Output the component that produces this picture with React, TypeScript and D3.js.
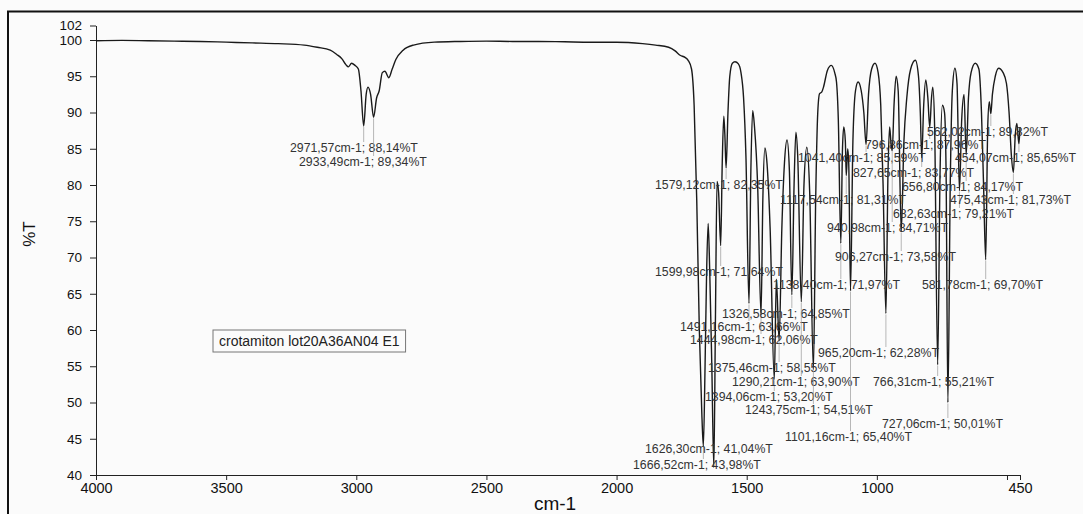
import * as d3 from 'd3';
import React, { useRef, useEffect } from 'react';

// spectrum: wavenumber (cm-1) and %T
const wavenumbers = [
  4000, 3900, 3800, 3700, 3600, 3500, 3400, 3300, 3200, 3150, 3100, 3075, 3055, 3040, 3030, 3018, 3005, 2992, 2982,
  2971.57, 2962, 2955, 2945, 2933.49, 2922, 2912, 2900, 2890, 2875, 2862, 2848, 2820, 2780, 2700, 2600, 2500, 2400,
  2300, 2200, 2100, 2000, 1900, 1850, 1800, 1775, 1756, 1737, 1725, 1712, 1702, 1692, 1682, 1672, 1666.52, 1660,
  1654, 1648, 1642, 1634, 1626.3, 1620, 1614, 1608, 1599.98, 1594, 1588, 1584, 1579.12, 1572, 1565, 1555, 1545,
  1532, 1522, 1512, 1503, 1491.16, 1484, 1477, 1470, 1458, 1444.98, 1438, 1430, 1422, 1410, 1394.06, 1386, 1375.46,
  1365, 1355, 1345, 1336, 1326.58, 1318, 1311, 1304, 1290.21, 1280, 1269, 1258, 1243.75, 1235, 1227, 1220, 1212,
  1205, 1190, 1175, 1162, 1155, 1148, 1138.4, 1132, 1127, 1121, 1117.54, 1112, 1108, 1101.16, 1092, 1082, 1072,
  1060, 1050, 1041.4, 1032, 1020, 1007, 995, 985, 976, 965.2, 957, 951, 946, 940.98, 934, 926, 918, 906.27, 896,
  885, 870, 852, 840, 833, 827.65, 820, 812, 804, 796.86, 790, 785, 778, 766.31, 757, 748, 740, 734, 727.06, 718,
  710, 700, 692, 682.63, 674, 665, 656.8, 648, 638, 622, 608, 598, 590, 581.78, 574, 568, 562.02, 556, 545, 532,
  515, 502, 492, 483, 475.43, 468, 462, 454.07, 450,
];
const transmittance = [
  99.9, 99.95, 99.9, 99.85, 99.8, 99.7, 99.6, 99.5, 99.3, 99.0, 98.6, 98.0, 97.4, 96.6, 96.3, 96.8, 96.5, 96.0, 93.0,
  88.14, 92.5, 93.5, 92.5, 89.34, 92.0, 93.0, 95.5, 95.7, 94.8, 96.0, 97.3, 98.6, 99.3, 99.7, 99.8, 99.85, 99.8,
  99.8, 99.75, 99.7, 99.7, 99.5, 99.3, 99.0, 98.5, 97.9, 97.6, 97.2, 96.0, 91.0, 78.0, 60.0, 48.0, 43.98, 55.0,
  68.0, 74.7, 68.0, 55.0, 41.04, 62.0, 80.5, 79.0, 71.64, 83.0, 89.5, 87.0, 82.35, 90.0, 95.0, 96.8, 97.0,
  96.7, 95.5, 92.0, 84.0, 63.66, 82.0, 90.3, 88.0, 80.0, 62.06, 78.0, 85.1, 83.0, 74.0, 53.2, 67.0, 58.55,
  74.0, 83.0, 86.2, 82.0, 64.85, 80.0, 87.3, 84.0, 63.9, 80.0, 85.2, 79.0, 54.51, 78.0, 90.0, 92.6, 92.8,
  93.5, 95.8, 96.5, 95.5, 94.2, 89.0, 71.97, 85.0, 88.0, 86.0, 81.31, 85.0, 83.0, 65.4, 86.0, 93.0, 94.2,
  93.0, 90.0, 85.59, 92.5, 96.0, 96.8, 95.5, 91.0, 80.0, 62.28, 82.0, 88.0, 86.0, 84.71, 91.0, 95.0, 93.0, 73.58, 86.0,
  92.0, 96.0, 97.2, 95.0, 90.0, 83.77, 91.0, 94.5, 92.0, 87.96, 92.0, 93.5, 88.0, 55.21, 82.0, 91.0, 90.0, 82.0, 50.01, 80.0,
  93.0, 96.1, 94.0, 79.21, 89.0, 92.5, 84.17, 92.0, 95.5, 96.8, 96.0, 90.0, 80.0, 69.7, 88.0, 91.5, 89.82, 92.5, 95.0, 96.1,
  95.5, 94.0, 90.0, 84.0, 81.73, 87.0, 88.5, 85.65, 88.0,
];

// picked peaks as printed on the scan
const peakWn = [
  2971.57, 2933.49, 1666.52, 1626.3, 1599.98, 1579.12, 1491.16, 1444.98, 1394.06, 1375.46, 1326.58, 1290.21, 1243.75,
  1138.4, 1117.54, 1101.16, 1041.4, 965.2, 940.98, 906.27, 827.65, 796.86, 766.31, 727.06, 682.63, 656.8, 581.78,
  562.02, 475.43, 454.07,
];
const peakT = [
  88.14, 89.34, 43.98, 41.04, 71.64, 82.35, 63.66, 62.06, 53.2, 58.55, 64.85, 63.9, 54.51,
  71.97, 81.31, 65.4, 85.59, 62.28, 84.71, 73.58, 83.77, 87.96, 55.21, 50.01, 79.21, 84.17, 69.7,
  89.82, 81.73, 85.65,
];
// where each peak label sits (left x, baseline y)
const labelAt: [number, number][] = [
  [290, 152], [299, 166], [633, 469], [645, 453], [655, 276], [655, 189], [680, 331], [690, 344], [705, 401], [708, 372],
  [722, 318], [732, 386], [745, 414], [773, 289], [780, 204], [785, 441], [798, 162], [818, 357], [827, 232], [835, 261],
  [853, 177], [865, 149], [873, 386], [882, 428], [893, 218], [902, 191], [922, 289], [927, 136], [950, 204], [955, 162],
];

const xTicks = [4000, 3500, 3000, 2500, 2000, 1500, 1000, 500, 450];
const yTicks = [40, 45, 50, 55, 60, 65, 70, 75, 80, 85, 90, 95, 100, 102];
const sampleName = 'crotamiton lot20A36AN04 E1';

const fmt = (v: number) => v.toFixed(2).replace('.', ',');

export default function App() {
  const ref = useRef<SVGSVGElement>(null);

  useEffect(() => {
    const svg = d3.select(ref.current);
    svg.selectAll('*').remove();

    const x = d3.scaleLinear().domain([4000, 450]).range([96, 1020]);
    const y = d3.scaleLinear().domain([40, 102]).range([475, 25.5]);

    svg.append('rect').attr('width', 1083).attr('height', 514).attr('fill', '#fbfbfb');
    // scan border (top and left only)
    svg.append('path').attr('d', 'M8,514V11.5H1083').attr('fill', 'none').attr('stroke', '#111').attr('stroke-width', 2);

    const font = 'Arial, "Liberation Sans", sans-serif';

    const xAxis = svg.append('g').attr('transform', 'translate(0,475)')
      .call(d3.axisBottom(x).tickValues(xTicks).tickSize(5).tickSizeOuter(0).tickPadding(3)
        .tickFormat((d: any) => (d === 500 ? '' : String(d))));
    xAxis.selectAll('text').attr('font-size', 14.5).attr('font-family', font).attr('fill', '#111');

    const yAxis = svg.append('g').attr('transform', 'translate(96,0)')
      .call(d3.axisLeft(y).tickValues(yTicks).tickSize(6).tickSizeOuter(0).tickPadding(8));
    yAxis.selectAll('text').attr('font-size', 13.5).attr('font-family', font).attr('fill', '#111');
    svg.selectAll('.domain, .tick line').attr('stroke', '#222');

    svg.append('text').attr('x', 555).attr('y', 510).attr('text-anchor', 'middle')
      .attr('font-size', 19).attr('font-family', font).attr('fill', '#111').text('cm-1');
    svg.append('text').attr('transform', 'translate(35,234) rotate(-90)').attr('text-anchor', 'middle')
      .attr('font-size', 17).attr('font-family', font).attr('fill', '#111').text('%T');

    const pts = wavenumbers.map((w, i) => [w, transmittance[i]] as [number, number]);
    const line = d3.line<[number, number]>().x(d => x(d[0])).y(d => y(d[1])).curve(d3.curveMonotoneX);
    svg.append('path').attr('d', line(pts)).attr('fill', 'none').attr('stroke', '#1a1a1a').attr('stroke-width', 1.4);

    // peak labels with leader lines
    const g = svg.append('g');
    peakWn.forEach((w, i) => {
      const [lx, ly] = labelAt[i];
      const txt = `${fmt(w)}cm-1; ${fmt(peakT[i])}%T`;
      const t = g.append('text').attr('x', lx).attr('y', ly).attr('font-size', 12.3)
        .attr('font-family', font).attr('fill', '#333').text(txt);
      const len = (t.node() as SVGTextElement).getComputedTextLength();
      const px = x(w), py = y(peakT[i]);
      const top = ly - 10;
      if (top > py + 2) {
        const ex = Math.max(lx + 2, Math.min(lx + len - 2, px));
        g.append('line').attr('x1', px).attr('y1', py + 1).attr('x2', ex).attr('y2', top)
          .attr('stroke', '#999').attr('stroke-width', 0.7);
      }
    });

    // sample name box
    const bx = svg.append('g');
    const nt = bx.append('text').attr('x', 219).attr('y', 346).attr('font-size', 14)
      .attr('font-family', font).attr('fill', '#222').text(sampleName);
    const nw = (nt.node() as SVGTextElement).getComputedTextLength();
    bx.insert('rect', 'text').attr('x', 213).attr('y', 330).attr('width', nw + 12).attr('height', 22)
      .attr('fill', 'none').attr('stroke', '#777').attr('stroke-width', 1);
  }, []);

  return (
    <>
      <style>{'body{margin:0}'}</style>
      <svg ref={ref} width={1083} height={514} style={{ display: 'block' }} />
    </>
  );
}
